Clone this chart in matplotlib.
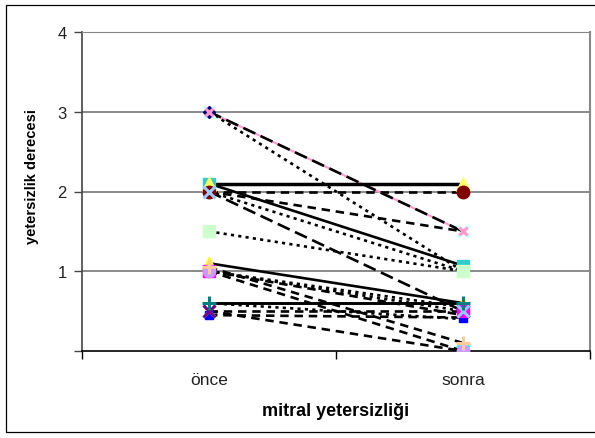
import matplotlib
matplotlib.use("Agg")
import matplotlib.pyplot as plt
from matplotlib.patches import Rectangle

plt.rcParams['font.family'] = ['Liberation Sans', 'DejaVu Sans']

categories = ["önce", "sonra"]
once_vals  = [3.0, 3.0, 3.0, 2.1, 2.0, 2.1, 2.0, 2.0, 2.0, 1.5, 1.1, 1.0, 1.05, 1.0, 1.0, 1.0, 0.6, 0.5, 0.45, 0.5, 0.6]
sonra_vals = [1.5, 1.5, 1.0, 2.1, 2.0, 1.07, 1.5, 1.0, 0.5, 1.0, 0.6, 0.5, 0.1, 0.0, 0.55, 0.45, 0.6, 0.5, 0.42, 0.0, 0.4]
y_ticks = [0, 1, 2, 3, 4]
y_tick_labels = ["", "1", "2", "3", "4"]

# styles: (linestyle, linewidth, line colour, marker, marker colour, marker size, marker zorder)
LD = (0, (5, 2.2))
DA = (0, (3.2, 2.2))
DO = (0, (1.2, 1.6))
SO = '-'
styles = [
    (LD, 1.9, 'black', 'x', '#CCFFFF', 8, 4.0),
    (SO, 1.5, '#FF99CC', 'x', '#FF99CC', 6, 4.2),
    (DO, 1.9, 'black', 'D', '#000080', 6, 4.1),
    (SO, 2.5, 'black', '^', '#FFFF66', 10, 4.3),
    (DA, 1.9, 'black', 'o', '#800000', 9, 4.4),
    (SO, 1.9, 'black', 's', '#33CCCC', 8, 4.0),
    (DA, 1.9, 'black', 'x', '#CCFFFF', 8, 4.1),
    (DO, 1.9, 'black', 'x', '#CCFFFF', 7, 4.1),
    (LD, 1.9, 'black', 'x', '#99CCFF', 8, 4.6),
    (DO, 1.9, 'black', 's', '#CCFFCC', 9, 4.2),
    (SO, 1.9, 'black', '^', '#FFFF00', 9, 4.1),
    (DO, 1.9, 'black', 's', '#FF00FF', 8, 4.2),
    (DA, 1.9, 'black', '+', '#FFCC99', 10, 4.5),
    (DA, 1.9, 'black', 'o', '#CC99FF', 9, 4.4),
    (DO, 1.9, 'black', None, None, 0, 4.0),
    (DA, 1.9, 'black', None, None, 0, 4.0),
    (SO, 2.1, 'black', '+', '#008080', 10, 4.7),
    (DA, 1.9, 'black', 'x', '#800080', 8, 4.3),
    (DA, 1.9, 'black', 's', '#0000FF', 6, 4.0),
    (DA, 1.9, 'black', 'x', '#00FFFF', 9, 4.0),
    (DO, 1.9, 'black', None, None, 0, 4.0),
]

fig = plt.figure(figsize=(5.95, 4.39), dpi=100)
ax = fig.add_axes([82/595, 1-352/439, (590-82)/595, (352-33)/439])

x = list(range(len(categories)))
for i, (o, s) in enumerate(zip(once_vals, sonra_vals)):
    ls, lw, lc, mk, mc, ms, mz = styles[i]
    ax.plot(x, [o, s], linestyle=ls, linewidth=lw, color=lc, zorder=2 if lc != 'black' else 2.5,
            solid_capstyle='butt', dash_capstyle='butt')
    if mk is None:
        continue
    if mk in ('x', '+'):
        ax.plot(x, [o, s], linestyle='none', marker=mk, markersize=ms, markeredgecolor=mc,
                markeredgewidth=2.2, zorder=mz)
    else:
        ax.plot(x, [o, s], linestyle='none', marker=mk, markersize=ms, markerfacecolor=mc,
                markeredgecolor=mc, zorder=mz)

ax.set_xlim(-0.5, 1.5)
ax.set_ylim(0, 4)
ax.set_yticks(y_ticks)
ax.set_yticklabels(y_tick_labels, fontsize=12, color='#222222')
ax.set_xticks([-0.5, 0.5, 1.5])
ax.set_xticklabels([])
ax.set_xticks(x, minor=True)
ax.set_xticklabels(categories, minor=True, fontsize=12.5, color='#222222')
ax.tick_params(axis='x', which='minor', length=0, pad=15)
ax.tick_params(axis='x', which='major', length=6, width=1, direction='out', color='black')
ax.tick_params(axis='y', length=6, width=1, direction='out', pad=5, color='#444444')

for yv in [1, 2, 3, 4]:
    ax.axhline(yv, color='#777777', linewidth=1.2, zorder=1)

ax.spines['left'].set_color('#444444')
ax.spines['left'].set_linewidth(1.2)
ax.spines['bottom'].set_color('black')
ax.spines['bottom'].set_linewidth(1.2)
ax.spines['top'].set_color('#888888')
ax.spines['right'].set_color('#888888')
ax.spines['right'].set_linewidth(1.5)

ax.set_ylabel("yetersizlik derecesi", fontsize=10.5, fontweight='bold')
ax.yaxis.set_label_coords(-(82 - 39) / 508, (352 - 177) / 319)
ax.set_xlabel("mitral yetersizliği", fontsize=13, fontweight='bold', labelpad=11)

fig.patches.append(Rectangle((6/595, 1-433/439), 1.2, (433-6)/439, transform=fig.transFigure,
                             fill=False, edgecolor='black', linewidth=0.9))

fig.savefig("out.png", dpi=100)
